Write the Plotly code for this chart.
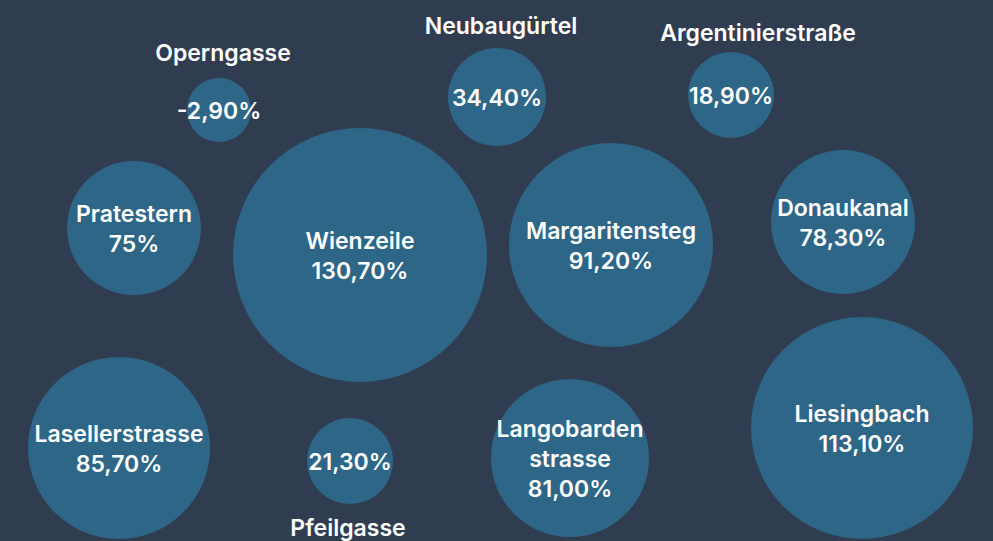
import plotly.graph_objects as go

# ---- data ----
names = ["Operngasse", "Neubaugürtel", "Argentinierstraße", "Pratestern", "Wienzeile",
         "Margaritensteg", "Donaukanal", "Lasellerstrasse", "Pfeilgasse",
         "Langobarden<br>strasse", "Liesingbach"]
values = ["-2,90%", "34,40%", "18,90%", "75%", "130,70%", "91,20%", "78,30%",
          "85,70%", "21,30%", "81,00%", "113,10%"]
label_inside = [False, False, False, True, True, True, True, True, False, True, True]

# ---- layout of the packed bubbles (pixel space) ----
pos_x = [219, 497, 731, 134, 360, 611, 843, 119, 350, 570, 862]
pos_y = [110, 97, 95, 228, 255, 245, 222, 448, 461, 458, 428]
diam = [64, 98, 86, 134, 254, 204, 144, 182, 86, 158, 222]
# outside label positions for small bubbles
out_lbl_x = {0: 223, 1: 501, 2: 758, 8: 348}
out_lbl_y = {0: 52, 1: 25, 2: 32, 8: 527}
TEXT_DY = 3

BG = "#303d51"
BUB = "#2e6687"
FONT = dict(family="Inter, DejaVu Sans", size=23, color="white", weight=600)

texts = [(f"{n}<br>{v}" if inside else v) for n, v, inside in zip(names, values, label_inside)]

fig = go.Figure()
fig.add_trace(go.Scatter(
    x=pos_x, y=pos_y, mode="markers",
    marker=dict(size=diam, sizemode="diameter", color=BUB, line=dict(width=0), opacity=1),
    hoverinfo="skip", showlegend=False,
))
fig.add_trace(go.Scatter(
    x=pos_x, y=[y + TEXT_DY for y in pos_y], mode="text",
    text=texts, textposition="middle center", textfont=FONT, cliponaxis=False,
    hoverinfo="skip", showlegend=False,
))
ox = [out_lbl_x[i] for i in sorted(out_lbl_x)]
oy = [out_lbl_y[i] + TEXT_DY for i in sorted(out_lbl_y)]
ot = [names[i] for i in sorted(out_lbl_x)]
fig.add_trace(go.Scatter(
    x=ox, y=oy, mode="text", text=ot, textposition="middle center", textfont=FONT,
    cliponaxis=False, hoverinfo="skip", showlegend=False,
))

fig.update_layout(
    width=993, height=541, margin=dict(l=0, r=0, t=0, b=0),
    paper_bgcolor=BG, plot_bgcolor=BG,
    xaxis=dict(range=[0, 993], visible=False, fixedrange=True),
    yaxis=dict(range=[541, 0], visible=False, fixedrange=True),
)
fig.write_html("out.html", config={"displayModeBar": False},
               post_script="document.body.style.margin='0';document.body.style.background='#303d51';")
